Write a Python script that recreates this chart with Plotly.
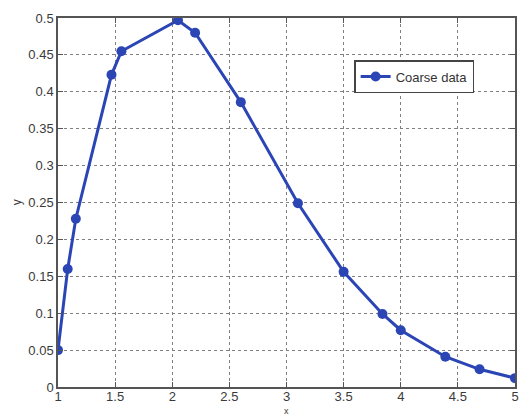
import plotly.graph_objects as go

# Coarse samples of the curve
x_vals = [1.0, 1.085, 1.156, 1.468, 1.555, 2.05, 2.2, 2.6, 3.1, 3.5, 3.84, 4.0, 4.39, 4.69, 5.0]
y_vals = [0.05, 0.16, 0.228, 0.423, 0.455, 0.497, 0.48, 0.386, 0.249, 0.156, 0.099, 0.077, 0.041, 0.024, 0.012]

x_ticks = [1, 1.5, 2, 2.5, 3, 3.5, 4, 4.5, 5]
x_tick_text = ["1", "1.5", "2", "2.5", "3", "3.5", "4", "4.5", "5"]
y_ticks = [0, 0.05, 0.1, 0.15, 0.2, 0.25, 0.3, 0.35, 0.4, 0.45, 0.5]
y_tick_text = ["0", "0.05", "0.1", "0.15", "0.2", "0.25", "0.3", "0.35", "0.4", "0.45", "0.5"]

line_color = "#2b45b5"
font = dict(family="Liberation Sans, Arial, sans-serif", size=13, color="#3a3a3a")

fig = go.Figure()
fig.add_trace(go.Scatter(
    x=x_vals, y=y_vals, mode="lines+markers", name="Coarse data",
    line=dict(color=line_color, width=3),
    marker=dict(color=line_color, size=10, symbol="circle"),
))

axis_common = dict(
    showline=True, linecolor="#555555", linewidth=1.5, mirror="ticks",
    ticks="inside", ticklen=5, tickcolor="#555555",
    showgrid=True, gridcolor="#808080", griddash="dot", gridwidth=1,
    zeroline=False, tickfont=font,
)

fig.update_xaxes(range=[1, 5], tickvals=x_ticks, ticktext=x_tick_text,
                 ticklabelstandoff=-3, **axis_common)
fig.update_yaxes(range=[0, 0.5], tickvals=y_ticks, ticktext=y_tick_text, **axis_common)

fig.update_layout(
    width=521, height=417,
    margin=dict(l=58, r=2, t=18, b=30),
    paper_bgcolor="white", plot_bgcolor="white",
    font=font,
    showlegend=True,
    legend=dict(
        x=0.648, y=0.886, xanchor="left", yanchor="top",
        bgcolor="white", bordercolor="#444444", borderwidth=1.5,
        font=dict(family="Liberation Sans, Arial, sans-serif", size=13, color="#333333"),
        itemwidth=30, tracegroupgap=0,
    ),
    annotations=[
        dict(text="y", xref="paper", yref="paper", x=-0.11, y=0.5,
             textangle=-90, showarrow=False, font=dict(size=12, color="#3a3a3a")),
        dict(text="x", xref="paper", yref="paper", x=0.5, y=-0.0813,
             yanchor="bottom", showarrow=False, borderpad=0,
             font=dict(size=9, color="#3a3a3a")),
    ],
)

fig.write_html("out.html")
